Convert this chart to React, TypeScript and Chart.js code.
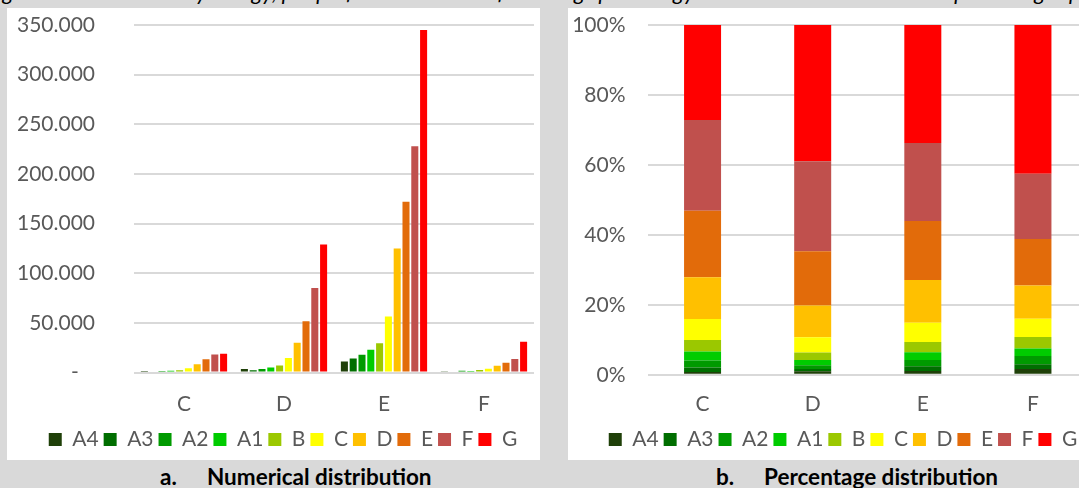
import React, { useEffect, useRef } from "react";
import { Chart, registerables } from "chart.js";
Chart.register(...registerables);

// ---- data ----
const categories = ["C", "D", "E", "F"];
const seriesNames = ["A4", "A3", "A2", "A1", "B", "C", "D", "E", "F", "G"];
const seriesColors = ["#1f4009", "#006e00", "#009a00", "#00cc00", "#9bc800", "#ffff00", "#ffc000", "#e26b0a", "#c0504d", "#ff0000"];

// dwellings per energy class (series) for categories C, D, E, F
const A4 = [550, 3400, 11000, 1200];
const A3 = [900, 2200, 14000, 1000];
const A2 = [1400, 3400, 18000, 1700];
const A1 = [1800, 5000, 23000, 1600];
const B = [2300, 7000, 29500, 2400];
const Cc = [4200, 14500, 56500, 3800];
const D = [8400, 30000, 125000, 6900];
const E = [13300, 51500, 172000, 9700];
const F = [18200, 85000, 228000, 13600];
const G = [19000, 129000, 345000, 31000];
const seriesValues = [A4, A3, A2, A1, B, Cc, D, E, F, G];

const numericMax = 350000;
const numericStep = 50000;
const percentMax = 100;
const percentStep = 20;

const FONT = "Lato, 'Open Sans', sans-serif";
const TICK_COLOR = "#595959";
const GRID_COLOR = "#d9d9d9";

function yAfterFit(width: number) {
  return (s: any) => {
    s.width = width;
    s.paddingTop = 0;
    s.paddingBottom = 0;
    s._computeLabelArea = () => undefined;
  };
}
function xAfterFit(height: number) {
  return (s: any) => {
    s.height = height;
  };
}

export default function App() {
  const leftRef = useRef<HTMLCanvasElement>(null);
  const rightRef = useRef<HTMLCanvasElement>(null);

  useEffect(() => {
    const font = { family: FONT, size: 21 };
    const totals = categories.map((_, j) => seriesValues.reduce((s, arr) => s + arr[j], 0));

    const legendOpts = {
      position: "bottom",
      labels: { font, color: TICK_COLOR, boxWidth: 13, boxHeight: 13, padding: 5 },
    };

    const left = new Chart(leftRef.current!, {
      type: "bar",
      data: {
        labels: categories,
        datasets: seriesNames.map((name, i) => ({
          label: name,
          data: seriesValues[i],
          backgroundColor: seriesColors[i],
          borderWidth: 0,
          barPercentage: 0.8,
          categoryPercentage: 0.88,
        })),
      },
      options: {
        animation: false,
        responsive: false,
        maintainAspectRatio: false,
        layout: { padding: { left: 25, right: 6, top: 17, bottom: 0 } },
        plugins: {
          legend: legendOpts,
          tooltip: { enabled: false },
        },
        scales: {
          x: {
            grid: { display: false, drawTicks: false },
            border: { display: false },
            ticks: { font, color: TICK_COLOR, padding: 19 },
            afterFit: xAfterFit(51.5),
          },
          y: {
            min: 0,
            max: numericMax,
            ticks: {
              stepSize: numericStep,
              font,
              color: TICK_COLOR,
              padding: 39,
              callback: (v: any) => (v === 0 ? "-   " : v / 1000 + ".000"),
            },
            grid: { color: GRID_COLOR, lineWidth: 2, drawTicks: false },
            border: { display: false },
            afterFit: yAfterFit(102),
          },
        },
      },
    } as any);

    const right = new Chart(rightRef.current!, {
      type: "bar",
      data: {
        labels: categories,
        datasets: seriesNames.map((name, i) => ({
          label: name,
          data: seriesValues[i].map((v, j) => (v / totals[j]) * 100),
          backgroundColor: seriesColors[i],
          borderWidth: 0,
          barPercentage: 0.42,
          categoryPercentage: 0.8,
        })),
      },
      options: {
        animation: false,
        responsive: false,
        maintainAspectRatio: false,
        layout: { padding: { left: 30, right: 10, top: 17, bottom: 0 } },
        plugins: {
          legend: legendOpts,
          tooltip: { enabled: false },
        },
        scales: {
          x: {
            stacked: true,
            grid: { display: false, drawTicks: false },
            border: { display: false },
            ticks: { font, color: TICK_COLOR, padding: 17 },
            afterFit: xAfterFit(49.2),
          },
          y: {
            stacked: true,
            min: 0,
            max: percentMax,
            ticks: {
              stepSize: percentStep,
              font,
              color: TICK_COLOR,
              padding: 22,
              callback: (v: any) => v + "%",
            },
            grid: { color: GRID_COLOR, lineWidth: 2, drawTicks: false },
            border: { display: false },
            afterFit: yAfterFit(49.5),
          },
        },
      },
    } as any);

    return () => {
      left.destroy();
      right.destroy();
    };
  }, []);

  const captionStyle: React.CSSProperties = {
    position: "absolute",
    top: 465,
    fontFamily: FONT,
    fontWeight: 700,
    fontSize: 22.5,
    lineHeight: "24px",
    color: "#000",
    whiteSpace: "nowrap",
  };

  return (
    <div
      style={{
        position: "fixed",
        left: 0,
        top: 0,
        width: 1079,
        height: 488,
        overflow: "hidden",
        background: "#d9d9d9",
      }}
    >
      <div
        style={{
          position: "absolute",
          left: -14,
          top: -21,
          fontFamily: FONT,
          fontStyle: "italic",
          fontSize: 22,
          lineHeight: "26px",
          whiteSpace: "nowrap",
          color: "#000",
        }}
      >
        Figure 4: Distribution by energy, per performance class of dwellings per energy class and the distribution in percentages per energy class
      </div>
      <div style={{ position: "absolute", left: 7, top: 8, width: 533, height: 452, background: "#fff" }}>
        <canvas ref={leftRef} width={533} height={452} style={{ display: "block" }} />
      </div>
      <div style={{ position: "absolute", left: 568, top: 8, width: 530, height: 452, background: "#fff" }}>
        <canvas ref={rightRef} width={530} height={452} style={{ display: "block" }} />
      </div>
      <div style={{ ...captionStyle, left: 160 }}>a.</div>
      <div style={{ ...captionStyle, left: 207 }}>Numerical distribution</div>
      <div style={{ ...captionStyle, left: 716 }}>b.</div>
      <div style={{ ...captionStyle, left: 764 }}>Percentage distribution</div>
    </div>
  );
}
